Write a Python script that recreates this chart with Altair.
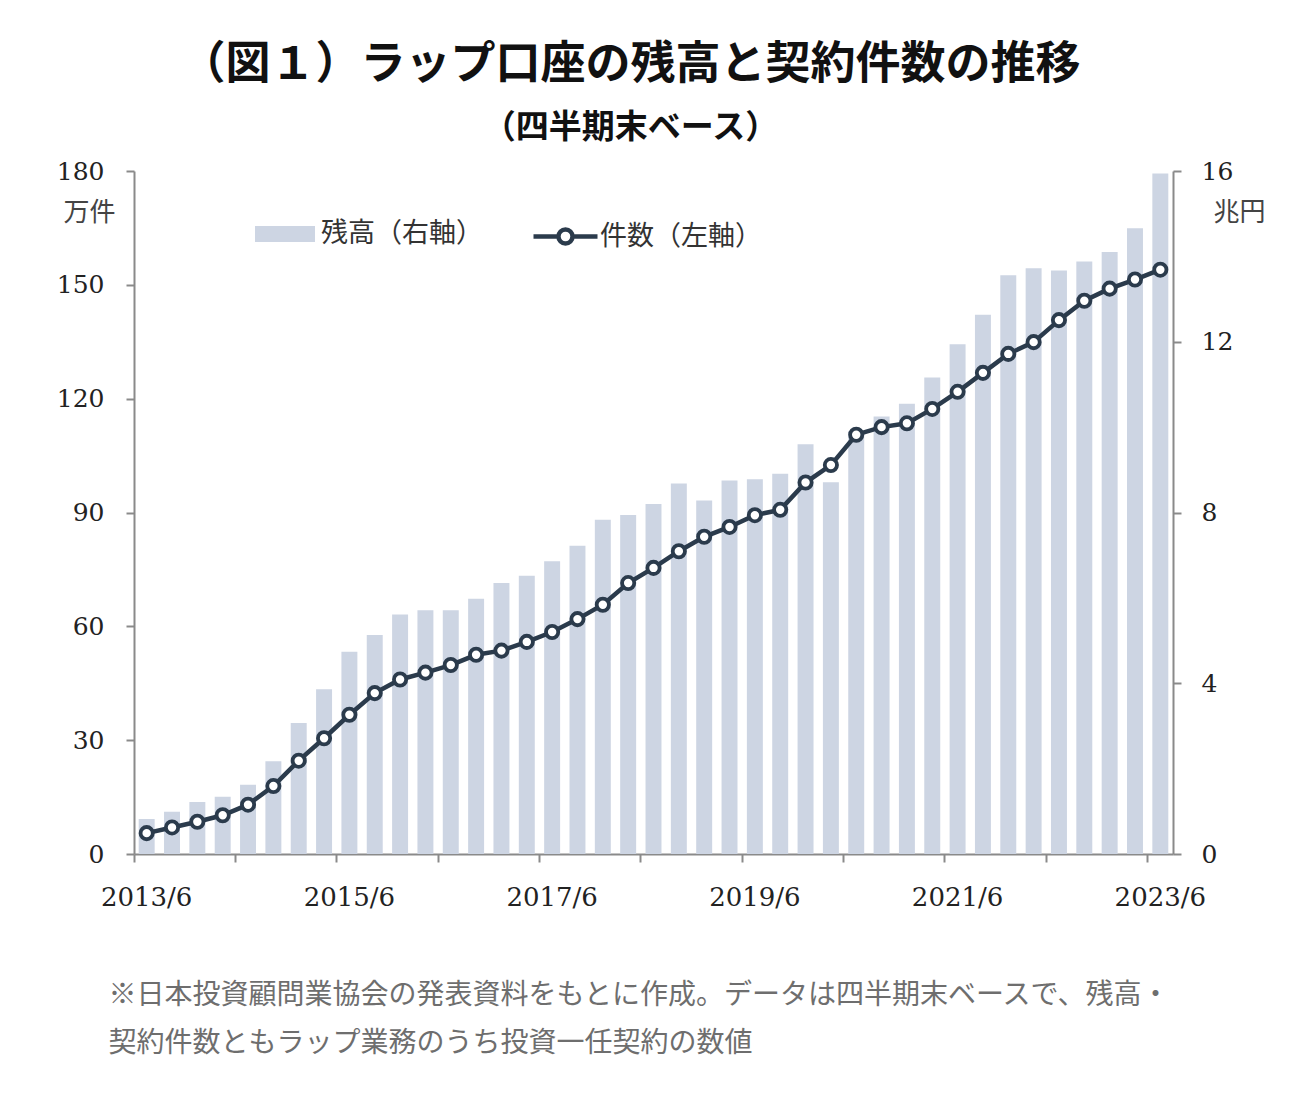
import altair as alt
import pandas as pd

# ---- data ----
periods = [
    "2013/6", "2013/9", "2013/12",
    "2014/3", "2014/6", "2014/9", "2014/12",
    "2015/3", "2015/6", "2015/9", "2015/12",
    "2016/3", "2016/6", "2016/9", "2016/12",
    "2017/3", "2017/6", "2017/9", "2017/12",
    "2018/3", "2018/6", "2018/9", "2018/12",
    "2019/3", "2019/6", "2019/9", "2019/12",
    "2020/3", "2020/6", "2020/9", "2020/12",
    "2021/3", "2021/6", "2021/9", "2021/12",
    "2022/3", "2022/6", "2022/9", "2022/12",
    "2023/3", "2023/6",
]
# 残高 (兆円, right axis)
balance = [
    0.82, 0.99, 1.22,
    1.34, 1.62, 2.17, 3.07,
    3.86, 4.74, 5.13, 5.61,
    5.71, 5.71, 5.98, 6.35,
    6.52, 6.86, 7.22, 7.83,
    7.94, 8.20, 8.68, 8.28,
    8.75, 8.78, 8.91, 9.60,
    8.71, 9.90, 10.25, 10.55,
    11.16, 11.94, 12.63, 13.56,
    13.72, 13.67, 13.88, 14.10,
    14.66, 15.94,
]
# 件数 (万件, left axis)
contracts = [
    5.5, 7.0, 8.5,
    10.2, 13.0, 17.9, 24.6,
    30.5, 36.7, 42.4, 46.0,
    47.8, 49.8, 52.5, 53.6,
    55.9, 58.5, 61.9, 65.7,
    71.4, 75.4, 79.8, 83.6,
    86.2, 89.3, 90.7, 97.9,
    102.5, 110.5, 112.5, 113.5,
    117.3, 121.8, 126.8, 131.8,
    134.9, 140.7, 145.8, 149.0,
    151.4, 154.0,
]
x_label_list = ["2013/6", "2015/6", "2017/6", "2019/6", "2021/6", "2023/6"]
x_tick_list = periods[::4]
left_ticks = [0, 30, 60, 90, 120, 150, 180]
right_ticks = [0, 4, 8, 12, 16]
legend_bar = "残高（右軸）"
legend_line = "件数（左軸）"
title_text = "（図１）ラップ口座の残高と契約件数の推移"
subtitle_text = "（四半期末ベース）"
left_unit = "万件"
right_unit = "兆円"
footnote = [
    "※日本投資顧問業協会の発表資料をもとに作成。データは四半期末ベースで、残高・",
    "契約件数ともラップ業務のうち投資一任契約の数値",
]

df = pd.DataFrame({
    "period": periods,
    "balance": balance,
    "contracts": contracts,
    "bar_series": legend_bar,
    "line_series": legend_line,
})

# ---- styling ----
W, H = 1039, 683
BAR_COLOR = "#CDD5E3"
LINE_COLOR = "#2B3B4C"
AXIS_COLOR = "#8A8A8A"
NUM_FONT = "DejaVu Serif"
JP_FONT = "Noto Sans CJK JP"

label_set = "[" + ",".join("'" + s + "'" for s in x_label_list) + "]"

x_enc = alt.X(
    "period:O",
    sort=periods,
    scale=alt.Scale(paddingInner=0, paddingOuter=0),
    axis=alt.Axis(
        values=x_tick_list,
        bandPosition=0,
        labelExpr=f"indexof({label_set}, datum.value) >= 0 ? datum.value : ''",
        labelAngle=0,
        labelOverlap=False,
        labelFont=NUM_FONT,
        labelFontSize=26,
        labelColor="#222222",
        labelPadding=22,
        tickSize=8,
        tickColor=AXIS_COLOR,
        tickWidth=2,
        domainColor=AXIS_COLOR,
        domainWidth=2,
        grid=False,
        title=footnote,
        titleFont=JP_FONT,
        titleFontSize=28,
        titleFontWeight="normal",
        titleColor="#6E6E6E",
        titleAlign="left",
        titleAnchor="start",
        titleBaseline="middle",
        titleLineHeight=48,
        titleX=-26,
        titleY=141,
    ),
)

bar_legend = alt.Legend(
    orient="none",
    legendX=121,
    legendY=33,
    title=None,
    padding=0,
    symbolType="M-1,-0.27H1V0.27H-1Z",
    symbolSize=3600,
    symbolStrokeWidth=0,
    labelFont=JP_FONT,
    labelFontSize=27,
    labelColor="#333333",
    labelOffset=6,
    labelLimit=400,
)

line_legend = alt.Legend(
    orient="none",
    legendX=397,
    legendY=31,
    title=None,
    padding=0,
    symbolType=(
        "M-1,0H-0.22M0.22,0H1"
        "M-0.22,0A0.22,0.22,0,1,1,0.22,0A0.22,0.22,0,1,1,-0.22,0Z"
    ),
    symbolSize=4096,
    symbolStrokeWidth=4.5,
    symbolFillColor="white",
    labelFont=JP_FONT,
    labelFontSize=27,
    labelColor="#333333",
    labelOffset=0,
    labelLimit=400,
)

bars = alt.Chart(df).mark_bar(width=alt.RelativeBandSize(0.63)).encode(
    x=x_enc,
    y=alt.Y(
        "balance:Q",
        scale=alt.Scale(domain=[0, 16], nice=False),
        axis=alt.Axis(
            orient="right",
            values=right_ticks,
            grid=False,
            labelFont=NUM_FONT,
            labelFontSize=25,
            labelColor="#222222",
            labelPadding=20,
            tickSize=8,
            tickColor=AXIS_COLOR,
            tickWidth=2,
            domainColor=AXIS_COLOR,
            domainWidth=2,
            title=right_unit,
            titleAngle=0,
            titleFont=JP_FONT,
            titleFontSize=26,
            titleFontWeight="normal",
            titleColor="#444444",
            titleAlign="center",
            titleBaseline="middle",
            titleX=66,
            titleY=41,
        ),
    ),
    color=alt.Color(
        "bar_series:N",
        scale=alt.Scale(domain=[legend_bar], range=[BAR_COLOR]),
        legend=bar_legend,
    ),
)

line = alt.Chart(df).mark_line(
    strokeWidth=4.5,
    point=alt.OverlayMarkDef(filled=False, fill="white", size=150, strokeWidth=3.8),
).encode(
    x=x_enc,
    y=alt.Y(
        "contracts:Q",
        scale=alt.Scale(domain=[0, 180], nice=False),
        axis=alt.Axis(
            orient="left",
            values=left_ticks,
            grid=False,
            labelFont=NUM_FONT,
            labelFontSize=25,
            labelColor="#222222",
            labelPadding=22,
            tickSize=8,
            tickColor=AXIS_COLOR,
            tickWidth=2,
            domainColor=AXIS_COLOR,
            domainWidth=2,
            title=left_unit,
            titleAngle=0,
            titleFont=JP_FONT,
            titleFontSize=26,
            titleFontWeight="normal",
            titleColor="#444444",
            titleAlign="center",
            titleBaseline="middle",
            titleX=-45,
            titleY=41,
        ),
    ),
    stroke=alt.Stroke(
        "line_series:N",
        scale=alt.Scale(domain=[legend_line], range=[LINE_COLOR]),
        legend=line_legend,
    ),
)

chart = (
    alt.layer(bars, line)
    .resolve_scale(y="independent", color="independent", stroke="independent")
    .properties(
        width=W,
        height=H,
        background="white",
        autosize=alt.AutoSizeParams(type="none"),
        padding={"left": 126, "top": 163, "right": 113, "bottom": 248},
        title=alt.TitleParams(
            text=title_text,
            subtitle=subtitle_text,
            font=JP_FONT,
            fontSize=45,
            fontWeight="bold",
            color="#111111",
            subtitleFont=JP_FONT,
            subtitleFontSize=33,
            subtitleFontWeight="bold",
            subtitleColor="#111111",
            subtitlePadding=24,
            anchor="middle",
            dx=-23,
            offset=14,
        ),
    )
    .configure_view(stroke="transparent")
)

chart.save("out.html", embed_options={"renderer": "svg", "actions": False})
